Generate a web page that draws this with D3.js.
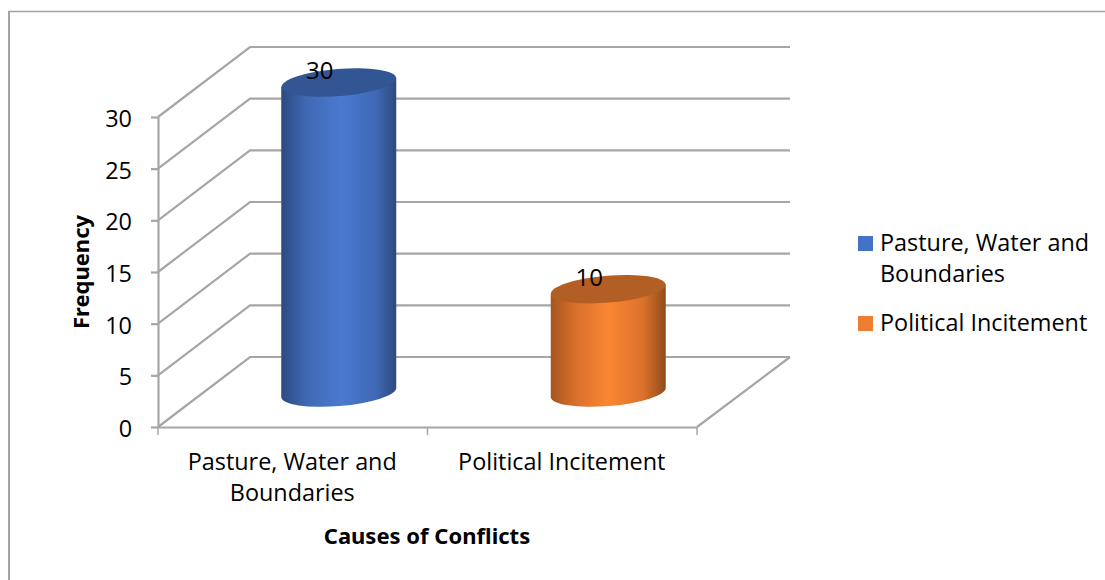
<!DOCTYPE html>
<html>
<head>
<meta charset="utf-8">
<script src="https://cdn.jsdelivr.net/npm/d3@7"></script>
<style>
  html, body { margin: 0; background: #fff; }
  svg { display: block; }
  text { font-family: "Open Sans", "Noto Sans", sans-serif; fill: #000; }
  .axisTitle { font-family: "Noto Sans", sans-serif; font-weight: 700; font-size: 22px; }
</style>
</head>
<body>
<div id="chart"></div>
<script>
// Chart values
const categories = ["Pasture, Water and Boundaries", "Political Incitement"];
const categoryLines = [["Pasture, Water and", "Boundaries"], ["Political Incitement"]];
const values = [30, 10];
const yTicks = [0, 5, 10, 15, 20, 25, 30];

const width = 1105;
const height = 580;
const plot = { left: 158, right: 697, top: 117, bottom: 427 };

// Depth of the 3D floor, from front edge to back wall
const depthX = 92;
const depthY = -70;

const lineColor = "#a6a6a6";
const labelSize = 23.4;

const svg = d3.select("#chart")
  .append("svg")
  .attr("width", width)
  .attr("height", height);

// Outer chart frame, open on the right and bottom
svg.append("line")
  .attr("x1", 9).attr("x2", 9)
  .attr("y1", 11).attr("y2", height)
  .attr("stroke", "#a3a3a3")
  .attr("stroke-width", 2);

svg.append("line")
  .attr("x1", 8).attr("x2", width)
  .attr("y1", 11.5).attr("y2", 11.5)
  .attr("stroke", "#a3a3a3")
  .attr("stroke-width", 1.5);

const yScale = d3.scaleLinear()
  .domain([0, 30])
  .range([plot.bottom, plot.top]);

const xScale = d3.scaleBand()
  .domain(categories)
  .range([plot.left, plot.right]);

/* Gradients for the cylinders */
const defs = svg.append("defs");

const gradients = [
  { id: "side0", stops: [["0%", "#2b4a80"], ["22%", "#3f69b4"], ["52%", "#4a79cf"], ["82%", "#4069b6"], ["100%", "#2c4a7e"]] },
  { id: "side1", stops: [["0%", "#a5561f"], ["22%", "#d9702b"], ["50%", "#fb8633"], ["80%", "#db722c"], ["100%", "#8f4c1c"]] }
];
const capColors = ["#325593", "#b35e24"];

gradients.forEach(g => {
  defs.append("linearGradient")
    .attr("id", g.id)
    .selectAll("stop")
    .data(g.stops)
    .enter()
    .append("stop")
    .attr("offset", d => d[0])
    .attr("stop-color", d => d[1]);
});

/* Walls and floor */
const grid = svg.append("g")
  .attr("fill", "none")
  .attr("stroke", lineColor)
  .attr("stroke-width", 2.2);

grid.selectAll(".wall")
  .data(yTicks)
  .enter()
  .append("path")
  .attr("class", "wall")
  .attr("d", d => `M${plot.left},${yScale(d)} L${plot.left + depthX},${yScale(d) + depthY} H${plot.right + depthX + 1}`);

grid.append("path")
  .attr("d", `M${plot.right + depthX + 1},${yScale(0) + depthY} L${plot.right},${yScale(0)}`);

/* Axes */
const yAxis = svg.append("g")
  .attr("transform", `translate(${plot.left},0)`)
  .call(d3.axisLeft(yScale).tickValues(yTicks).tickSize(7).tickPadding(19).tickSizeOuter(0));

const xAxis = svg.append("g")
  .attr("transform", `translate(0,${plot.bottom})`)
  .call(d3.axisBottom(xScale).tickSize(0).tickFormat(""));

[yAxis, xAxis].forEach(a => {
  a.selectAll("path, line").attr("stroke", lineColor).attr("stroke-width", 2.2);
});
yAxis.selectAll("text")
  .attr("font-size", labelSize)
  .attr("font-family", "Open Sans")
  .attr("fill", "#000")
  .attr("dy", "0.4em");

// Ticks between the categories on the x axis
svg.selectAll(".xTick")
  .data([plot.left, xScale(categories[1]), plot.right])
  .enter()
  .append("line")
  .attr("class", "xTick")
  .attr("x1", d => d)
  .attr("x2", d => d)
  .attr("y1", plot.bottom)
  .attr("y2", plot.bottom + 8)
  .attr("stroke", lineColor)
  .attr("stroke-width", 1.5);

// Category labels, wrapped over two lines where needed
categoryLines.forEach((lines, i) => {
  svg.append("text")
    .attr("text-anchor", "middle")
    .attr("font-size", labelSize)
    .selectAll("tspan")
    .data(lines)
    .enter()
    .append("tspan")
    .attr("x", xScale(categories[i]) + xScale.bandwidth() / 2 - 0.5)
    .attr("y", (d, j) => 470 + j * 31)
    .text(d => d);
});

/* Axis titles */
svg.append("text")
  .attr("class", "axisTitle")
  .attr("text-anchor", "middle")
  .attr("x", 427)
  .attr("y", 544)
  .text("Causes of Conflicts");

svg.append("text")
  .attr("class", "axisTitle")
  .attr("text-anchor", "middle")
  .attr("transform", "translate(89,272) rotate(-90)")
  .text("Frequency");

/* Cylinders */
const rx = 57.5;
const ry = 13.5;
const tilt = 4.7;
const tiltAngle = -4.7;
const baseShift = -34.5; // the cylinders stand halfway back on the floor
const barCenter = d => xScale(d) + xScale.bandwidth() / 2 + depthX / 2;

const bars = svg.selectAll(".bar")
  .data(categories)
  .enter()
  .append("g")
  .attr("class", "bar");

bars.append("path")
  .attr("fill", (d, i) => `url(#side${i})`)
  .attr("d", (d, i) => {
    const cx = barCenter(d);
    const top = yScale(values[i]) + baseShift;
    const base = yScale(0) + baseShift;
    return `M${cx - rx},${top + tilt} V${base + tilt}`
      + ` A${rx},${ry} ${tiltAngle} 0 0 ${cx + rx},${base - tilt}`
      + ` V${top - tilt} Z`;
  });

bars.append("ellipse")
  .attr("fill", (d, i) => capColors[i])
  .attr("rx", rx)
  .attr("ry", ry)
  .attr("transform", (d, i) => `translate(${barCenter(d)},${yScale(values[i]) + baseShift}) rotate(${tiltAngle})`);

// Value labels sit on the back edge of each cap
bars.append("text")
  .attr("text-anchor", "middle")
  .attr("font-size", 24)
  .attr("x", d => barCenter(d) - 19)
  .attr("y", (d, i) => yScale(values[i]) - 38)
  .text((d, i) => values[i]);

/* Legend */
const legendColors = ["#4472c4", "#ed7d31"];
const legendRows = [236, 316];

svg.selectAll(".swatch")
  .data(categories)
  .enter()
  .append("rect")
  .attr("class", "swatch")
  .attr("x", 858)
  .attr("y", (d, i) => legendRows[i])
  .attr("width", 15)
  .attr("height", 15)
  .attr("fill", (d, i) => legendColors[i]);

categoryLines.forEach((lines, i) => {
  svg.append("text")
    .attr("font-size", labelSize)
    .selectAll("tspan")
    .data(lines)
    .enter()
    .append("tspan")
    .attr("x", 880)
    .attr("y", (d, j) => legendRows[i] + 15 + j * 31)
    .text(d => d);
});
</script>
</body>
</html>
